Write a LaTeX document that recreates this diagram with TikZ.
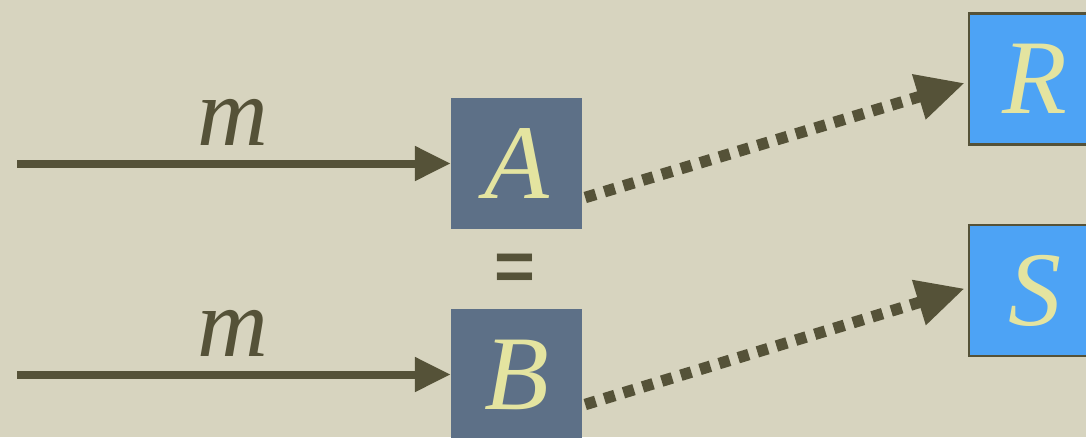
\documentclass[tikz,border=0pt]{standalone}
\usepackage{fontspec}
\setmainfont{Liberation Serif}
\newfontfamily\eqfont{Liberation Sans}
\usetikzlibrary{arrows.meta}
\definecolor{bg}{RGB}{215,212,191}
\definecolor{olive}{RGB}{85,82,56}
\definecolor{slate}{RGB}{93,112,135}
\definecolor{skyb}{RGB}{77,163,245}
\definecolor{pale}{RGB}{228,228,160}
\tikzset{
  darkbox/.style={fill=slate, minimum size=131pt, inner sep=0pt, text=pale, font=\fontsize{106}{106}\selectfont\itshape},
  bluebox/.style={fill=skyb, draw=olive, line width=2.5pt, minimum size=131pt, inner sep=0pt, text=pale, font=\fontsize{106}{106}\selectfont\itshape},
  lbl/.style={text=olive, inner sep=0pt, font=\fontsize{98}{98}\selectfont\itshape},
  eqlbl/.style={text=olive, inner sep=0pt, font=\fontsize{70}{70}\eqfont\bfseries},
  solidarrow/.style={draw=olive, line width=8pt, -{Triangle[length=36pt,width=33pt]}},
  dotarrow/.style={draw=olive, line width=11.5pt, dash pattern=on 11pt off 9pt, -{Triangle[length=48pt,width=44pt]}}
}
\begin{document}
\begin{tikzpicture}[x=1pt,y=-1pt]
\fill[bg] (0,0) rectangle (1086,437);
\useasboundingbox (0,0) rectangle (1086,437);
\node[darkbox] (A) at (516.5,163.5) {A};
\node[darkbox] (B) at (516.5,374.5) {B};
\node[bluebox] (R) at (1034.5,79) {R};
\node[bluebox] (S) at (1034.5,290.5) {S};
\node[eqlbl] (eq) at (515,272) {=};
\node[lbl] (m1) at (233,122) {m};
\node[lbl] (m2) at (233,333) {m};
\coordinate (s1) at (17,163.5);
\coordinate (s2) at (17,374.5);
\draw[solidarrow] (s1) -- (A.west);
\draw[solidarrow] (s2) -- (B.west);
\draw[dotarrow] ([xshift=3pt,yshift=-34pt]A.east) -- ([xshift=-3pt,yshift=-4pt]R.west);
\draw[dotarrow] ([xshift=3pt,yshift=-30pt]B.east) -- ([xshift=-3pt,yshift=2pt]S.west);
\end{tikzpicture}
\end{document}
